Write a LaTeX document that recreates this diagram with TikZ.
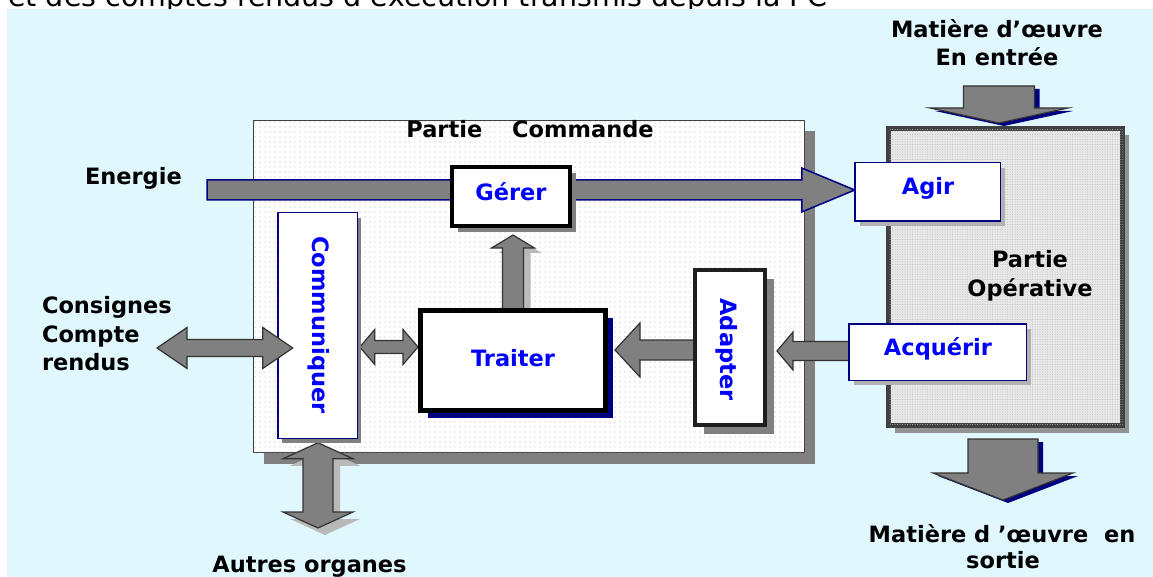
\documentclass[tikz,border=0pt]{standalone}
\usepackage{fontspec}
\setmainfont{DejaVu Sans}
\usetikzlibrary{calc,shadows,patterns.meta}
\definecolor{bgc}{RGB}{223,247,253}
\definecolor{navyc}{RGB}{0,0,128}
\definecolor{lblue}{RGB}{0,0,255}
\definecolor{arrfill}{RGB}{128,128,128}
\definecolor{shgray}{RGB}{128,128,128}
\pgfdeclarelayer{bg}
\pgfdeclarelayer{mid}
\pgfsetlayers{bg,mid,main}

% horizontal single block arrow: style, tail, tip, body half, head half, head length
\newcommand{\HArrow}[6]{%
 \path[#1] let \p1=(#2), \p2=(#3), \n1={(\x2-\x1)/abs(\x2-\x1)} in
 ({\x1},{\y1+#4pt}) -- ({\x2-(\n1)*#6pt},{\y1+#4pt}) -- ({\x2-(\n1)*#6pt},{\y1+#5pt}) -- ({\x2},{\y1})
 -- ({\x2-(\n1)*#6pt},{\y1-#5pt}) -- ({\x2-(\n1)*#6pt},{\y1-#4pt}) -- ({\x1},{\y1-#4pt}) -- cycle;}
% vertical single block arrow
\newcommand{\VArrow}[6]{%
 \path[#1] let \p1=(#2), \p2=(#3), \n1={(\y2-\y1)/abs(\y2-\y1)} in
 ({\x1+#4pt},{\y1}) -- ({\x1+#4pt},{\y2-(\n1)*#6pt}) -- ({\x1+#5pt},{\y2-(\n1)*#6pt}) -- ({\x1},{\y2})
 -- ({\x1-#5pt},{\y2-(\n1)*#6pt}) -- ({\x1-#4pt},{\y2-(\n1)*#6pt}) -- ({\x1-#4pt},{\y1}) -- cycle;}
% horizontal double block arrow
\newcommand{\HDArrow}[6]{%
 \path[#1] let \p1=(#2), \p2=(#3), \n1={(\x2-\x1)/abs(\x2-\x1)} in
 ({\x1},{\y1}) -- ({\x1+(\n1)*#6pt},{\y1+#5pt}) -- ({\x1+(\n1)*#6pt},{\y1+#4pt}) -- ({\x2-(\n1)*#6pt},{\y1+#4pt})
 -- ({\x2-(\n1)*#6pt},{\y1+#5pt}) -- ({\x2},{\y1}) -- ({\x2-(\n1)*#6pt},{\y1-#5pt}) -- ({\x2-(\n1)*#6pt},{\y1-#4pt})
 -- ({\x1+(\n1)*#6pt},{\y1-#4pt}) -- ({\x1+(\n1)*#6pt},{\y1-#5pt}) -- cycle;}
% vertical double block arrow
\newcommand{\VDArrow}[6]{%
 \path[#1] let \p1=(#2), \p2=(#3), \n1={(\y2-\y1)/abs(\y2-\y1)} in
 ({\x1},{\y1}) -- ({\x1+#5pt},{\y1+(\n1)*#6pt}) -- ({\x1+#4pt},{\y1+(\n1)*#6pt}) -- ({\x1+#4pt},{\y2-(\n1)*#6pt})
 -- ({\x1+#5pt},{\y2-(\n1)*#6pt}) -- ({\x1},{\y2}) -- ({\x1-#5pt},{\y2-(\n1)*#6pt}) -- ({\x1-#4pt},{\y2-(\n1)*#6pt})
 -- ({\x1-#4pt},{\y1+(\n1)*#6pt}) -- ({\x1-#5pt},{\y1+(\n1)*#6pt}) -- cycle;}

\tikzset{
 lbl/.style={font=\fontsize{22.5}{27}\selectfont\bfseries, inner sep=0, outer sep=0},
 bl/.style={lbl, text=lblue},
 thinbox/.style={draw=navyc, line width=1.5pt, fill=white, inner sep=0, outer sep=0},
 thickbox/.style={draw=black, line width=4.5pt, fill=white, inner sep=0, outer sep=0},
 ablk/.style={fill=arrfill, draw=black!80, line width=1.2pt, line join=miter},
 ashadow/.style={fill=gray!55, draw=none},
 nshadow/.style={fill=navyc, draw=none},
}

\begin{document}
\begin{tikzpicture}[x=1pt,y=-1pt]
\useasboundingbox (0,0) rectangle (1153,577);

\begin{pgfonlayer}{bg}
\fill[white] (0,0) rectangle (1153,577);
\node[font=\fontsize{28.5}{30}\selectfont, anchor=base west, inner sep=0] (toptext) at (8,6.5) {et des comptes rendus d'exécution transmis depuis la PC};
\fill[bgc] (7,9) rectangle (1153,577);
\node[draw=black!75, line width=1pt, fill=white, minimum width=551pt, minimum height=332pt, inner sep=0, outer sep=0,
  drop shadow={shadow xshift=10pt, shadow yshift=-11pt, fill=shgray, opacity=1},
  postaction={pattern={Dots[distance=5pt,radius=0.6pt]}, pattern color=gray!60}] (pc) at (529,286.5) {};
\node[draw=black!75, line width=5pt, fill=gray!18, minimum width=234pt, minimum height=297pt, inner sep=0, outer sep=0,
  drop shadow={shadow xshift=6pt, shadow yshift=-7pt, fill=gray!85, opacity=1},
  postaction={pattern={Dots[distance=2.5pt,radius=0.5pt]}, pattern color=gray!55}] (po) at (1005.5,277) {};
\end{pgfonlayer}

% boxes
\node[thinbox, minimum width=145.5pt, minimum height=58.5pt, drop shadow={shadow xshift=5pt, shadow yshift=-5pt, fill=gray!60, opacity=1}] (agir) at (927.5,192) {};
\node[thinbox, minimum width=177.5pt, minimum height=56.5pt, drop shadow={shadow xshift=5pt, shadow yshift=-5pt, fill=gray!60, opacity=1}] (acq) at (937.5,352) {};
\node[thickbox, line width=4pt, minimum width=118pt, minimum height=59pt, drop shadow={shadow xshift=6pt, shadow yshift=-6pt, fill=shgray, opacity=1}] (gerer) at (511,196.5) {};
\node[thickbox, line width=5pt, minimum width=185pt, minimum height=100pt, drop shadow={shadow xshift=7pt, shadow yshift=-7pt, fill=navyc, opacity=1}] (trait) at (513,360.5) {};
\node[thinbox, minimum width=79.5pt, minimum height=225.5pt, drop shadow={shadow xshift=4pt, shadow yshift=-5pt, fill=shgray, opacity=1}] (comm) at (317.5,325.5) {};
\node[thickbox, draw=black!88, line width=4pt, minimum width=70pt, minimum height=155pt, drop shadow={shadow xshift=9pt, shadow yshift=-9pt, fill=shgray, opacity=1}] (adapt) at (730,347.5) {};

% free ends
\coordinate (entail) at (207,190);
\coordinate (autresT) at (318,528);
\coordinate (minTail) at (999,86);
\coordinate (moutT) at (1003,500);
\coordinate (consT) at (157,348);

\begin{pgfonlayer}{mid}
\HArrow{ablk, draw=navyc, line width=1.5pt}{entail}{agir.west}{10}{22}{53}
\begin{scope}[transform canvas={xshift=7pt, yshift=-5pt}]
\VArrow{ashadow}{trait.north}{$(gerer.south)+(0,9)$}{10.5}{21.5}{13}
\end{scope}
\VArrow{ablk}{trait.north}{$(gerer.south)+(0,9)$}{10.5}{21.5}{13}
\HArrow{ablk}{$(adapt.west)+(0,2.5)$}{$(trait.east)+(9.5,0)$}{10}{27}{25}
\HArrow{ablk}{$(acq.west)+(0,-1)$}{$(adapt.east)+(12,0)$}{9.5}{19}{16}
\HDArrow{ablk}{$(comm.east)+(2.5,21.5)$}{$(trait.west)+(-2.5,-13.5)$}{6.5}{17.5}{15}
\begin{scope}[transform canvas={xshift=7pt, yshift=-7pt}]
\VDArrow{ashadow}{$(comm.south)+(0.5,4.5)$}{autresT}{15}{35}{16}
\end{scope}
\VDArrow{ablk}{$(comm.south)+(0.5,4.5)$}{autresT}{15}{35}{16}
\begin{scope}[transform canvas={xshift=5pt, yshift=-3pt}]
\VArrow{nshadow}{minTail}{$(po.north)+(0,-5.5)$}{35.5}{69}{15}
\VArrow{nshadow}{$(po.south)+(-2.5,13.5)$}{moutT}{35}{70}{27}
\end{scope}
\VArrow{ablk}{minTail}{$(po.north)+(0,-5.5)$}{35.5}{69}{15}
\VArrow{ablk}{$(po.south)+(-2.5,13.5)$}{moutT}{35}{70}{27}
\end{pgfonlayer}

\HDArrow{ablk}{consT}{$(consT -| comm.west)+(15,0)$}{8.5}{20.5}{30}

% labels
\node[bl, anchor=base] (gererL) at (511,201) {Gérer};
\node[bl, anchor=base] (agirL) at (928,195) {Agir};
\node[bl, anchor=base] (traitL) at (513,366) {Traiter};
\node[bl, anchor=base] (acqL) at (938,355) {Acquérir};
\node[bl, rotate=-90, anchor=base] (commL) at (312,325) {Communiquer};
\node[bl, rotate=-90, anchor=base] (adaptL) at (720,349.5) {Adapter};

\node[lbl, anchor=base west] (energie) at (85,185) {Energie};
\node[lbl, anchor=base] (pcT) at (530,138) {Partie\hspace{30pt}Commande};
\node[lbl, anchor=base] (poT1) at (1030,268) {Partie};
\node[lbl, anchor=base] (poT2) at (1030,296) {Opérative};
\node[lbl, anchor=base west] (cons1) at (42,313) {Consignes};
\node[lbl, anchor=base west] (cons2) at (42,342) {Compte};
\node[lbl, anchor=base west] (cons3) at (42,370) {rendus};
\node[lbl, anchor=base] (autres) at (309.5,572) {Autres organes};
\node[lbl, anchor=base] (min1) at (997,38) {Matière d’œuvre};
\node[lbl, anchor=base] (min2) at (997,66) {En entrée};
\node[lbl, anchor=base] (mout1) at (1002,542) {Matière d ’œuvre\ \ en};
\node[lbl, anchor=base] (mout2) at (1003,568) {sortie};
\end{tikzpicture}
\end{document}
